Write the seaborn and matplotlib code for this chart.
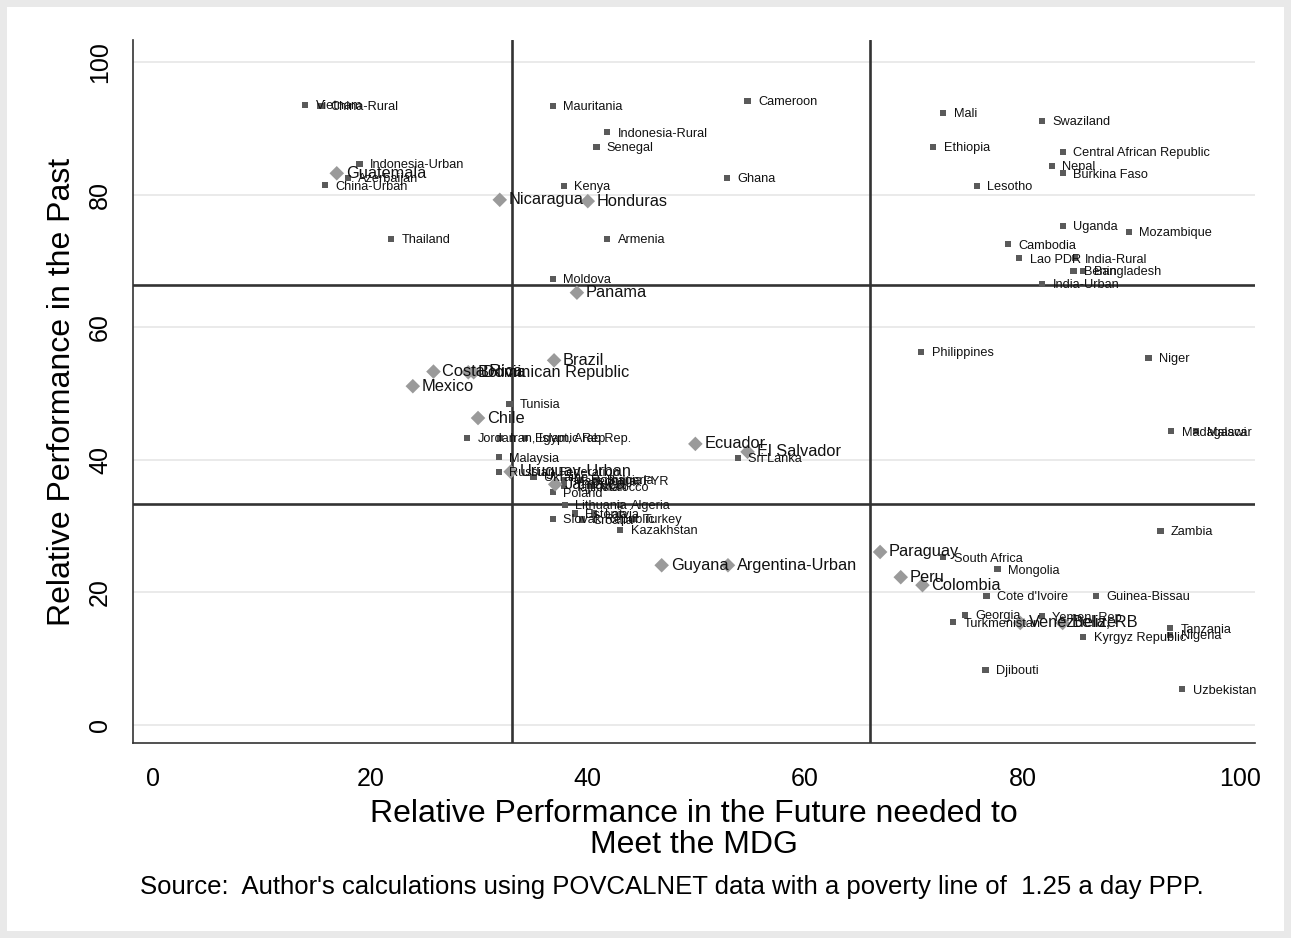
import pandas as pd
import matplotlib.pyplot as plt
import seaborn as sns
from matplotlib.patches import Rectangle

# Small markers (non Latin American countries)
small_names = ['Vietnam', 'China-Rural', 'Indonesia-Urban', 'Azerbaijan', 'China-Urban', 'Thailand',
               'Mauritania', 'Indonesia-Rural', 'Senegal', 'Cameroon', 'Ghana', 'Kenya', 'Armenia', 'Moldova',
               'Mali', 'Swaziland', 'Ethiopia', 'Central African Republic', 'Nepal', 'Burkina Faso', 'Lesotho',
               'Uganda', 'Mozambique', 'Cambodia', 'Lao PDR', 'India-Rural', 'Benin', 'Bangladesh', 'India-Urban',
               'Philippines', 'Niger', 'Madagascar', 'Malawi',
               'Tunisia', 'Jordan', 'Iran, Islamic Rep.', 'Egypt, Arab Rep.', 'Malaysia', 'Sri Lanka',
               'Russian Federation', 'Ukraine', 'Macedonia, FYR', 'Romania', 'Bulgaria', 'Tajikistan', 'Morocco',
               'Poland', 'Lithuania', 'Algeria', 'Estonia', 'Latvia', 'Slovak Republic', 'Croatia', 'Turkey',
               'Kazakhstan', 'Zambia', 'South Africa', 'Mongolia', "Cote d'Ivoire", 'Guinea-Bissau', 'Georgia',
               'Turkmenistan', 'Yemen, Rep.', 'Tanzania', 'Nigeria', 'Kyrgyz Republic', 'Djibouti', 'Uzbekistan']
small_x = [14.0, 15.4, 19.0, 17.9, 15.8, 21.9,
           36.8, 41.8, 40.8, 54.7, 52.8, 37.8, 41.8, 36.8,
           72.7, 81.8, 71.8, 83.7, 82.7, 83.7, 75.8,
           83.7, 89.8, 78.7, 79.7, 84.8, 84.7, 85.6, 81.8,
           70.7, 91.6, 93.7, 96.0,
           32.8, 28.9, 31.9, 34.2, 31.8, 53.8,
           31.8, 35.0, 37.8, 39.3, 40.8, 37.8, 40.2,
           36.8, 37.9, 43.0, 38.8, 40.6, 36.8, 39.5, 44.2,
           43.0, 92.7, 72.7, 77.7, 76.7, 86.8, 74.7,
           73.6, 81.8, 93.6, 93.6, 85.6, 76.6, 94.7]
small_y = [93.5, 93.4, 84.6, 82.5, 81.4, 73.3,
           93.4, 89.4, 87.2, 94.1, 82.5, 81.3, 73.3, 67.3,
           92.3, 91.1, 87.2, 86.4, 84.3, 83.2, 81.3,
           75.3, 74.4, 72.5, 70.4, 70.4, 68.5, 68.5, 66.5,
           56.3, 55.4, 44.3, 44.3,
           48.4, 43.3, 43.3, 43.3, 40.4, 40.3,
           38.2, 37.4, 37.0, 37.0, 37.0, 36.0, 36.0,
           35.1, 33.2, 33.2, 31.9, 31.9, 31.1, 31.0, 31.1,
           29.4, 29.3, 25.3, 23.5, 19.5, 19.5, 16.6,
           15.5, 16.4, 14.6, 13.6, 13.3, 8.3, 5.4]

# Large markers (Latin America)
big_names = ['Guatemala', 'Nicaragua', 'Honduras', 'Panama', 'Brazil', 'Costa Rica', 'Bolivia',
             'Dominican Republic', 'Mexico', 'Chile', 'Ecuador', 'El Salvador', 'Uruguay-Urban', 'Jamaica',
             'Guyana', 'Argentina-Urban', 'Paraguay', 'Peru', 'Colombia', 'Venezuela, RB', 'Belize']
big_x = [16.9, 31.9, 40.0, 39.0, 36.9, 25.8, 29.0,
         29.5, 23.9, 29.9, 49.9, 54.7, 32.9, 37.0,
         46.8, 52.9, 66.9, 68.8, 70.8, 79.8, 83.7]
big_y = [83.2, 79.2, 79.0, 65.2, 55.0, 53.3, 53.2,
         53.2, 51.1, 46.3, 42.4, 41.2, 38.2, 36.3,
         24.1, 24.1, 26.1, 22.3, 21.1, 15.4, 15.4]

x_cut = [33, 66]
y_cut = [33.3, 66.4]

small = pd.DataFrame({'name': small_names, 'x': small_x, 'y': small_y})
big = pd.DataFrame({'name': big_names, 'x': big_x, 'y': big_y})

sns.set_style('white')
plt.rcParams['font.family'] = ['Liberation Sans', 'DejaVu Sans']
plt.rcParams['text.color'] = 'black'
plt.rcParams['axes.labelcolor'] = 'black'
plt.rcParams['xtick.color'] = 'black'
plt.rcParams['ytick.color'] = 'black'

fig = plt.figure(figsize=(12.91, 9.38), dpi=100)
fig.patch.set_facecolor('#e9e9e9')
fig.patches.append(Rectangle((7 / 1291, 7 / 938), 1 - 14 / 1291, 1 - 14 / 938,
                             transform=fig.transFigure, facecolor='white', edgecolor='none', zorder=-5))
ax = fig.add_axes([133 / 1291, 1 - 743 / 938, (1255 - 133) / 1291, (743 - 40) / 938])
ax.set_facecolor('white')

for v in range(0, 101, 20):
    ax.axhline(v, color='#e6e6e6', lw=1.2, zorder=0)
for v in x_cut:
    ax.axvline(v, color='#333333', lw=1.9, zorder=1)
for v in y_cut:
    ax.axhline(v, color='#333333', lw=1.9, zorder=1)

sns.scatterplot(data=small, x='x', y='y', marker='s', s=20, color='#5a5a5a', edgecolor='none', ax=ax, zorder=3)
sns.scatterplot(data=big, x='x', y='y', marker='D', s=55, color='#9a9a9a', edgecolor='none', ax=ax, zorder=3)

for _, r in small.iterrows():
    ax.annotate(r['name'], (r['x'], r['y']), xytext=(7.5, -1), textcoords='offset points',
                fontsize=9.2, va='center', ha='left', color='#111111', zorder=4)
for _, r in big.iterrows():
    ax.annotate(r['name'], (r['x'], r['y']), xytext=(6.5, 0), textcoords='offset points',
                fontsize=11.8, va='center', ha='left', color='#111111', zorder=4)

ax.set_xlim(-1.85, 101.4)
ax.set_ylim(-2.7, 103.3)
ax.set_xticks(range(0, 101, 20))
ax.set_yticks(range(0, 101, 20))
ax.tick_params(axis='both', direction='out', length=6, width=1.2, labelsize=18, color='#333333')
ax.tick_params(axis='x', pad=11)
ax.tick_params(axis='y', pad=9)
plt.setp(ax.get_yticklabels(), rotation=90, va='center')
sns.despine(ax=ax, top=True, right=True)
for sp in ['left', 'bottom']:
    ax.spines[sp].set_color('#333333')
    ax.spines[sp].set_linewidth(1.2)

ax.set_xlabel('Relative Performance in the Future needed to\nMeet the MDG', fontsize=23, linespacing=1.05,
              labelpad=6)
ax.set_ylabel('Relative Performance in the Past', fontsize=23, labelpad=8)
fig.text(140 / 1291, 1 - 887 / 938,
         "Source:  Author's calculations using POVCALNET data with a poverty line of  1.25 a day PPP.",
         fontsize=18.5, va='center', ha='left')

fig.savefig('out.png', dpi=100, facecolor=fig.get_facecolor())
